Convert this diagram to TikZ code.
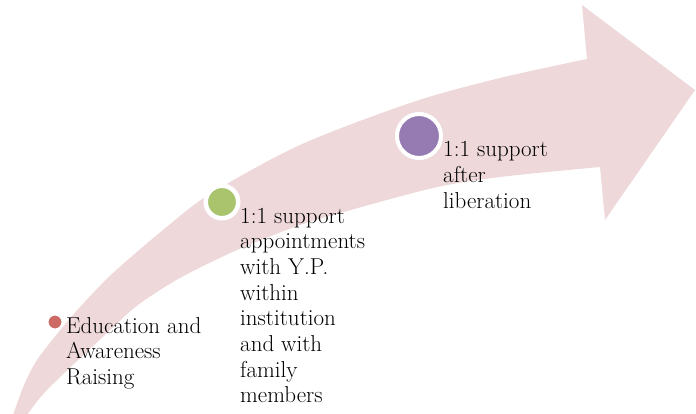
\documentclass[tikz,border=0pt]{standalone}
\usepackage{fontspec}
\definecolor{arrowpink}{RGB}{238,216,218}
\definecolor{dotred}{RGB}{205,106,102}
\definecolor{dotgreen}{RGB}{170,196,110}
\definecolor{dotpurple}{RGB}{149,123,177}
\tikzset{
  dot/.style={circle, inner sep=0pt, draw=white},
  lbl/.style={inner sep=0pt, anchor=base west, align=left, text=black,
    font=\fontsize{23}{25.7}\selectfont},
}
\begin{document}
\begin{tikzpicture}[x=1pt,y=-1pt]
\useasboundingbox (0,0) rectangle (696,414);
\clip (0,0) rectangle (696,414);
\fill[arrowpink]
  plot[smooth,tension=0.5] coordinates {(12,418) (24,385) (37,360) (57,334) (80,307) (113,273) (163,230) (210,194) (300,145) (413,102) (500,78) (587,59)}
  -- (582,5) -- (695,90) -- (605,220) -- (600,167)
  -- plot[smooth,tension=0.5] coordinates {(600,167) (500,177) (433,188) (340,213) (300,225) (237,250) (180,278) (138,305) (107,333) (47,390) (25,418)}
  -- cycle;
\node[dot, fill=dotred, line width=2pt, minimum size=15pt] (d1) at (55,322) {};
\node[dot, fill=dotgreen, line width=4.5pt, minimum size=32.5pt] (d2) at (222,202) {};
\node[dot, fill=dotpurple, line width=4pt, minimum size=44pt] (d3) at (419,136) {};
% base anchor of a multi-line node = baseline of its last line
\node[lbl] (t1) at (66,384.4) {Education and\\Awareness\\Raising};
\node[lbl] (t2) at (240,402.9) {1:1 support\\appointments\\with Y.P.\\within\\institution\\and with\\family\\members};
\node[lbl] (t3) at (443,208.4) {1:1 support\\after\\liberation};
\end{tikzpicture}
\end{document}
